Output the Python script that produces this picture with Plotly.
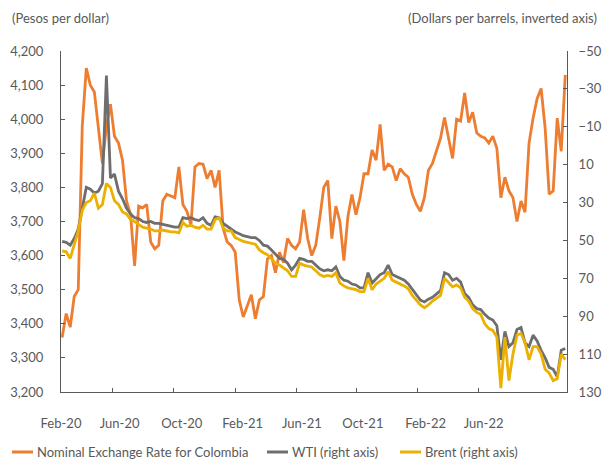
import pandas as pd
import plotly.graph_objects as go

# weekly observations
dates = pd.date_range("2020-02-03", periods=126, freq="7D")

cop = [3360, 3430, 3390, 3480, 3500, 3980, 4150, 4100, 4080, 3975,
       3870, 3980, 4044, 3950, 3930, 3880, 3760, 3720, 3570, 3745,
       3740, 3750, 3640, 3620, 3630, 3760, 3780, 3775, 3770, 3860,
       3750, 3730, 3690, 3860, 3870, 3868, 3826, 3850, 3800, 3850,
       3680, 3640, 3630, 3610, 3470, 3420, 3455, 3485, 3415, 3470,
       3480, 3590, 3600, 3550, 3610, 3580, 3650, 3630, 3620, 3640,
       3735, 3650, 3600, 3630, 3710, 3800, 3820, 3650, 3745, 3700,
       3585, 3715, 3779, 3720, 3770, 3840, 3840, 3910, 3880, 3985,
       3850, 3868, 3860, 3820, 3855, 3840, 3830, 3780, 3750, 3730,
       3770, 3850, 3870, 3905, 3944, 4005, 3944, 3885, 4000, 3995,
       4077, 3990, 4020, 3960, 3950, 3945, 3930, 3950, 3915, 3770,
       3830, 3790, 3770, 3700, 3760, 3727, 3930, 4003, 4060, 4090,
       3974, 3780, 3790, 4003, 3906, 4130]

wti = [50.5, 51, 52.5, 49, 44, 33, 22, 23, 25, 24,
       20, -37, 17, 15, 24, 28, 33, 36, 38, 38.5,
       40, 40.5, 40, 41, 41, 41.5, 42, 42.5, 43, 43,
       38, 38.5, 38, 39, 39.5, 38, 41, 42, 37.5, 38,
       41, 42.5, 44, 45.5, 46.5, 47.5, 48, 48.5, 48.5, 50,
       52.5, 53, 55, 57.5, 59.5, 60, 62, 65.5, 63, 59.5,
       60, 61, 61, 63, 65, 66, 65.5, 66, 64, 69,
       71, 71.5, 73, 73.5, 75, 75, 67, 72.5, 70, 68,
       67, 63, 68, 69, 70, 71, 73, 76, 79, 81.5,
       82.5, 81, 80, 78, 76.5, 67, 68, 71, 70, 72,
       78, 80, 84, 86, 86.5, 89, 91, 92, 95, 113,
       98, 106, 104, 97, 96, 104, 106, 100, 103, 108,
       112, 117, 118, 122, 108, 107]

brent = [55.5, 56, 59.5, 52, 45, 34, 30, 29, 25, 33,
         31, 20, 22, 29, 31, 35, 36, 39, 40, 41.5,
         43, 43.5, 44, 45, 45, 44.5, 45, 45.5, 45.5, 46,
         40.5, 42.5, 42, 43, 43.5, 42, 44, 44, 39, 38,
         43.5, 45, 45, 48.5, 49.5, 50.5, 51, 51.5, 52, 55,
         56.5, 57.5, 59.5, 62, 63, 64.5, 66, 69, 69, 62,
         63, 63.5, 64, 66, 68, 69, 68.5, 69, 67, 72.5,
         74, 75, 75.5, 76, 77, 77, 70, 76, 73, 71.5,
         70, 66.5, 71, 72, 73, 74, 75.5, 79, 81.5, 84,
         85.5, 84, 82, 80.5, 79, 70, 72, 74.5, 73.5, 75,
         80, 82, 86, 88, 89, 94, 96.5, 97.5, 101, 128,
         101, 124, 110, 100, 99, 104, 113, 106, 106, 110,
         118, 120, 124, 123, 110, 113]

series_names = ["Nominal Exchange Rate for Colombia", "WTI (right axis)", "Brent (right axis)"]

x_range = ["2020-02-01", "2022-06-30"]
tick_marks = ["2020-05-01", "2020-08-15", "2020-12-01", "2021-03-17",
              "2021-06-29", "2021-10-13", "2022-01-27"]
label_pos = ["2020-02-01", "2020-05-13", "2020-08-29", "2020-12-13",
             "2021-03-26", "2021-07-10", "2021-10-27", "2022-02-05"]
labels = ["Feb-20", "Jun-20", "Oct-20", "Feb-21", "Jun-21", "Oct-21",
          "Feb-22", "Jun-22"]

ORANGE = "#ED7D31"
GRAY = "#6E6E6E"
YELLOW = "#EBB000"
COLORS = [ORANGE, GRAY, YELLOW]
TXT = "#595959"
AX = "#595959"
FONT = "Lato"

W, H = 602, 460
L, R, T, B = 61, 35, 51, 68
PW, PH = W - L - R, H - T - B


def px_x(p):
    return (p - L) / PW


def px_y(p):
    return (H - B - p) / PH


fig = go.Figure()
fig.add_trace(go.Scatter(x=dates, y=cop, mode="lines", name=series_names[0],
                         line=dict(color=ORANGE, width=2.8), xaxis="x", yaxis="y"))
fig.add_trace(go.Scatter(x=dates, y=wti, mode="lines", name=series_names[1],
                         line=dict(color=GRAY, width=2.8), xaxis="x2", yaxis="y2"))
fig.add_trace(go.Scatter(x=dates, y=brent, mode="lines", name=series_names[2],
                         line=dict(color=YELLOW, width=2.8), xaxis="x2", yaxis="y2"))

# legend drawn as line samples + text (compact sample length like the reference)
legend_x = [12, 267, 400]
legend_y = 452
shapes = []
annotations = []
for name, col, lx in zip(series_names, COLORS, legend_x):
    shapes.append(dict(type="line", xref="paper", yref="paper",
                       x0=px_x(lx), x1=px_x(lx + 21), y0=px_y(legend_y), y1=px_y(legend_y),
                       line=dict(color=col, width=3)))
    annotations.append(dict(text=name, xref="paper", yref="paper", x=px_x(lx + 23),
                            y=px_y(legend_y), xanchor="left", yanchor="middle",
                            showarrow=False, font=dict(family=FONT, size=13, color=TXT)))

annotations += [
    dict(text="(Pesos per dollar)", xref="paper", yref="paper", x=px_x(10), y=px_y(18),
         xanchor="left", yanchor="middle", showarrow=False,
         font=dict(family=FONT, size=13, color=TXT)),
    dict(text="(Dollars per barrels, inverted axis)", xref="paper", yref="paper",
         x=px_x(599), y=px_y(18), xanchor="right", yanchor="middle", showarrow=False,
         font=dict(family=FONT, size=13, color=TXT)),
]

fig.update_layout(
    width=W, height=H,
    margin=dict(l=L, r=R, t=T, b=B, autoexpand=False),
    paper_bgcolor="white", plot_bgcolor="white",
    font=dict(family=FONT, size=13, color=TXT),
    showlegend=False,
    xaxis=dict(type="date", range=x_range, tickmode="array", tickvals=tick_marks,
               showticklabels=False, ticks="inside", ticklen=4, tickcolor=AX,
               showline=True, linecolor=AX, linewidth=1, showgrid=False, zeroline=False,
               automargin=False),
    xaxis2=dict(type="date", range=x_range, overlaying="x", anchor="y2", side="bottom",
                tickmode="array", tickvals=label_pos, ticktext=labels, ticks="",
                ticklabelstandoff=22, showline=False, showgrid=False, zeroline=False,
                automargin=False, tickfont=dict(family=FONT, size=13, color=TXT)),
    yaxis=dict(range=[3200, 4200], tickmode="linear", tick0=3200, dtick=100,
               tickformat=",", ticks="inside", ticklen=4, tickcolor=AX,
               showline=True, linecolor=AX, linewidth=1, showgrid=False, zeroline=False,
               automargin=False, ticklabelstandoff=14,
               tickfont=dict(family=FONT, size=13, color=TXT)),
    yaxis2=dict(range=[130, -50], overlaying="y", side="right", anchor="x2",
                tickmode="linear", tick0=-50, dtick=20, ticks="inside", ticklen=4,
                tickcolor=AX, showline=True, linecolor=AX, linewidth=1,
                showgrid=False, zeroline=False, automargin=False, ticklabelstandoff=8,
                tickfont=dict(family=FONT, size=13, color=TXT)),
    shapes=shapes,
    annotations=annotations,
)

fig.write_html("out.html", config={"displayModeBar": False},
               post_script="document.body.style.margin='0';")
